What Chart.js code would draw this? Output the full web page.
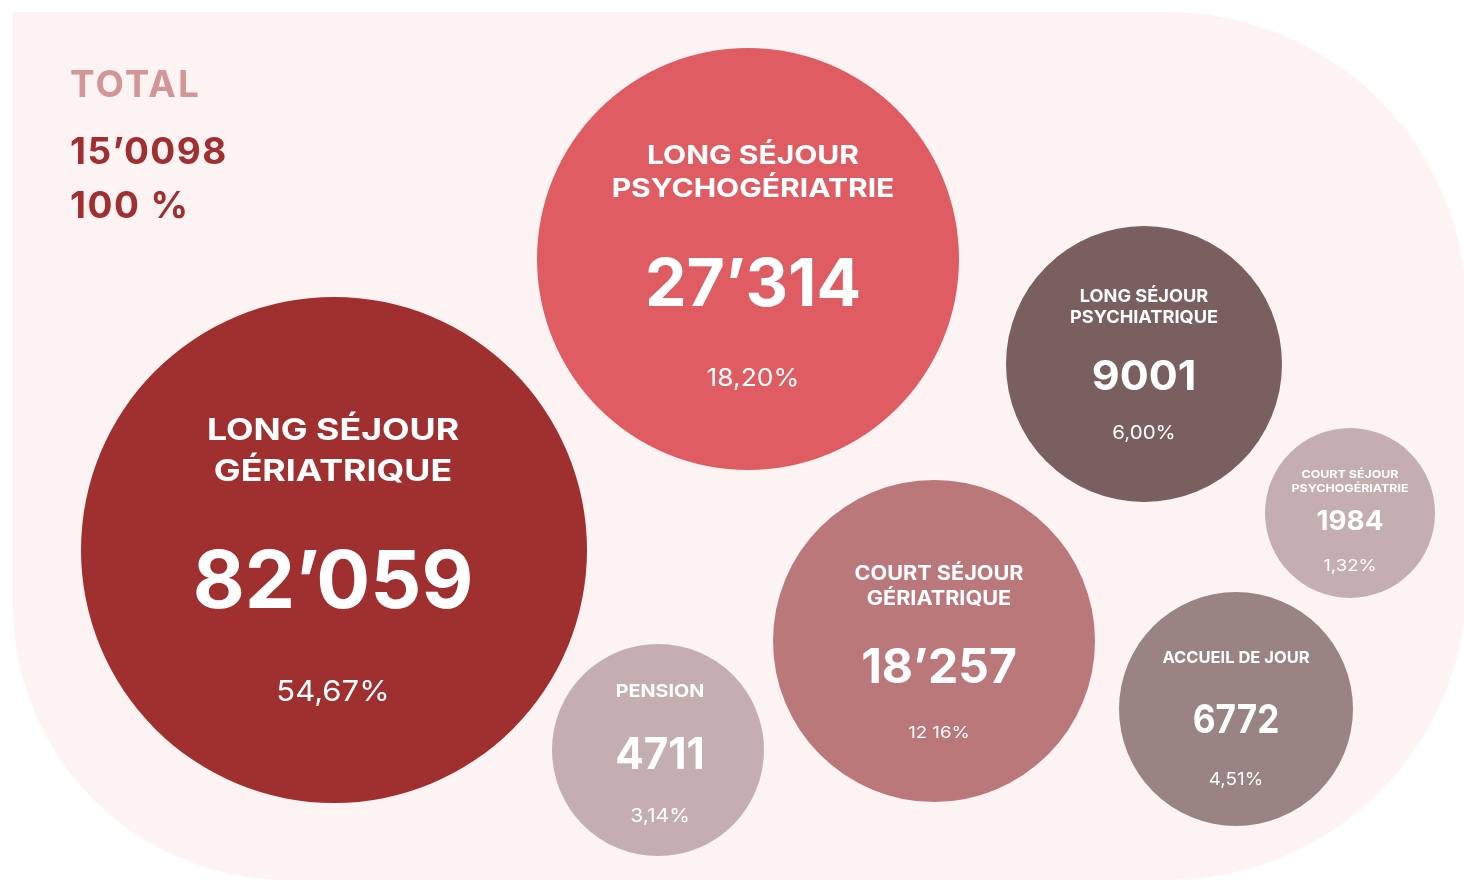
<!DOCTYPE html>
<html>
<head>
<meta charset="utf-8">
<script src="https://cdn.jsdelivr.net/npm/chart.js@4/dist/chart.umd.min.js"></script>
<style>
  html, body { margin: 0; padding: 0; background: #ffffff; }
  #wrap { width: 1464px; height: 884px; }
</style>
</head>
<body>
<div id="wrap"><canvas id="bubbles" width="1464" height="884"></canvas></div>
<script>
// ---- données ----
const categories = [
  ["LONG SÉJOUR", "GÉRIATRIQUE"],
  ["LONG SÉJOUR", "PSYCHOGÉRIATRIE"],
  ["LONG SÉJOUR", "PSYCHIATRIQUE"],
  ["COURT SÉJOUR", "PSYCHOGÉRIATRIE"],
  ["COURT SÉJOUR", "GÉRIATRIQUE"],
  ["PENSION"],
  ["ACCUEIL DE JOUR"]
];
const values = [82059, 27314, 9001, 1984, 18257, 4711, 6772];
const valueLabels = ["82’059", "27’314", "9001", "1984", "18’257", "4711", "6772"];
const shareLabels = ["54,67%", "18,20%", "6,00%", "1,32%", "12 16%", "3,14%", "4,51%"];
// position des bulles (unités de l'axe caché) et rayon
const xPos = [334, 748, 1144, 1350, 934, 658, 1236];
const yPos = [550, 259, 364, 513, 641, 750, 709];
const radius = [253, 211, 138, 85, 161, 106, 117];

const totalLabel = "TOTAL";
const totalValue = "15’0098";
const totalShare = "100 %";

// ---- styles ----
const colors = ["#a02f30", "#df5c63", "#7a5f5f", "#c4aeaf", "#ba787b", "#c4aeaf", "#9a8383"];
// tailles de police, étirement horizontal, décalages (relatifs au centre de la bulle)
const textStyle = [
  { label: 30, ls: 1.19, value: 80, vs: 1.0, pct: 29, ps: 1.07, dx: -1, lines: [-121, -80], valueY: 29, pctY: 140 },
  { label: 26, ls: 1.155, value: 66, vs: 1.0, pct: 24, ps: 1.1, dx: 5, lines: [-104, -71], valueY: 23, pctY: 118 },
  { label: 17.5, ls: 1.04, value: 41, vs: 1.05, pct: 18, ps: 1.14, dx: 0, lines: [-68, -47], valueY: 11, pctY: 68 },
  { label: 11, ls: 1.13, value: 27, vs: 1.03, pct: 15.5, ps: 1.2, dx: 0, lines: [-39, -25], valueY: 7, pctY: 52 },
  { label: 19.5, ls: 1.11, value: 48, vs: 1.0, pct: 16.5, ps: 1.13, dx: 5, lines: [-68, -43], valueY: 25, pctY: 91 },
  { label: 17.5, ls: 1.13, value: 44, vs: 0.96, pct: 18, ps: 1.17, dx: 2, lines: [-59], valueY: 3, pctY: 65 },
  { label: 16.5, ls: 1.0, value: 40, vs: 0.88, pct: 17.5, ps: 1.08, dx: 0, lines: [-52], valueY: 9, pctY: 70 }
];
const FONT = "Inter, 'Noto Sans', sans-serif";
const CAP = 0.3635; // demi-hauteur des capitales d'Inter (en em)

// fond rose arrondi
const backgroundShape = {
  id: "backgroundShape",
  beforeDraw(chart) {
    const ctx = chart.ctx;
    ctx.save();
    ctx.fillStyle = "#fef3f3";
    ctx.beginPath();
    ctx.roundRect(13, 12, 1454, 868, [0, 300, 300, 275]);
    ctx.fill();
    ctx.restore();
  }
};

// texte centré sur (x, yc), étiré horizontalement
function drawText(ctx, txt, x, yc, weight, size, stretch) {
  ctx.save();
  ctx.font = weight + " " + size + "px " + FONT;
  ctx.translate(x, yc + size * CAP);
  ctx.scale(stretch, 1);
  ctx.fillText(txt, 0, 0);
  ctx.restore();
}

// textes dans les bulles + total
const bubbleText = {
  id: "bubbleText",
  afterDatasetsDraw(chart) {
    const ctx = chart.ctx;
    const meta = chart.getDatasetMeta(0);
    ctx.save();
    ctx.textAlign = "center";
    ctx.textBaseline = "alphabetic";
    ctx.fillStyle = "#ffffff";
    meta.data.forEach((pt, i) => {
      const st = textStyle[i];
      const x = pt.x + st.dx;
      categories[i].forEach((line, k) => {
        drawText(ctx, line, x, pt.y + st.lines[k], 700, st.label, st.ls);
      });
      drawText(ctx, valueLabels[i], x, pt.y + st.valueY, 700, st.value, st.vs);
      drawText(ctx, shareLabels[i], x, pt.y + st.pctY, 400, st.pct, st.ps);
    });

    ctx.textAlign = "left";
    ctx.fillStyle = "#d39696";
    ctx.letterSpacing = "2px";
    drawText(ctx, totalLabel, 70, 84, 700, 37, 1);
    ctx.fillStyle = "#a02f30";
    ctx.letterSpacing = "1.5px";
    drawText(ctx, totalValue, 70, 151, 700, 37, 1);
    drawText(ctx, totalShare, 70, 205, 700, 37, 1);
    ctx.restore();
  }
};

const ctx = document.getElementById("bubbles");
new Chart(ctx, {
  type: "bubble",
  data: {
    datasets: [{
      label: "Journées",
      data: values.map((v, i) => ({ x: xPos[i], y: yPos[i], r: radius[i], v })),
      backgroundColor: colors,
      borderWidth: 0,
      hoverRadius: 0,
      clip: false
    }]
  },
  options: {
    responsive: false,
    animation: false,
    events: [],
    layout: { padding: 0, autoPadding: false },
    scales: {
      x: { type: "linear", min: 0, max: 1464, display: false },
      y: { type: "linear", min: 0, max: 884, reverse: true, display: false }
    },
    plugins: {
      legend: { display: false },
      tooltip: { enabled: false }
    }
  },
  plugins: [backgroundShape, bubbleText]
});
</script>
</body>
</html>
